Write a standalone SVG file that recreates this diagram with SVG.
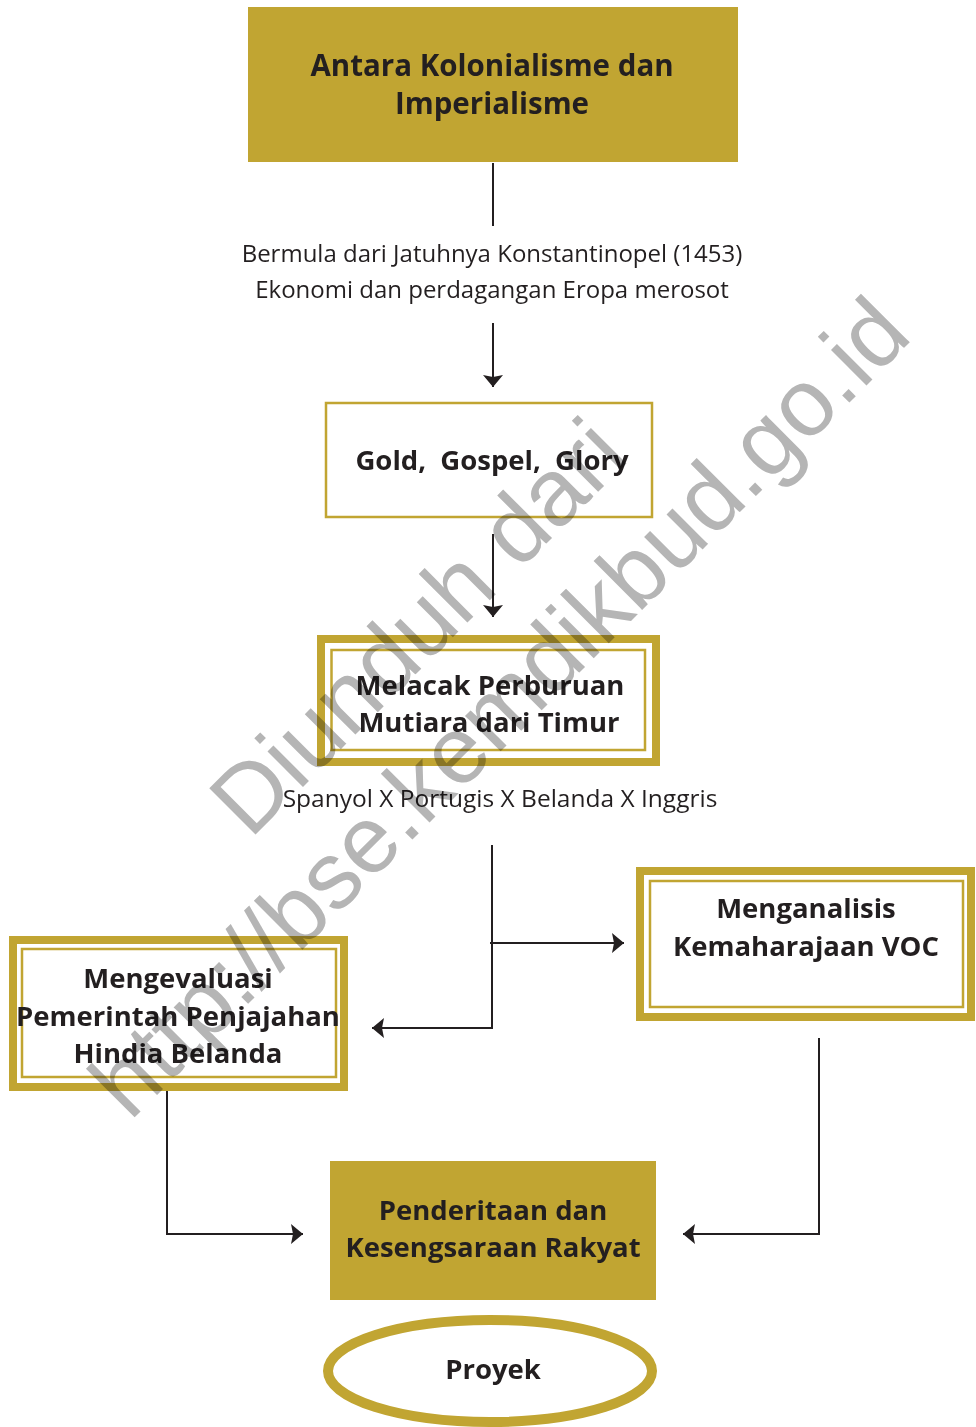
<svg xmlns="http://www.w3.org/2000/svg" width="976" height="1427" viewBox="0 0 976 1427">
<defs>
<style>
.gold-fill{fill:#c1a532;}
.thin{fill:none;stroke:#c1a532;stroke-width:2.5;}
.band{fill:none;stroke:#c1a532;stroke-width:8;}
.t{font-family:"Open Sans","Noto Sans",sans-serif;fill:#231f20;text-anchor:middle;}
.b{font-weight:bold;font-size:27.5px;}
.bt{font-weight:bold;font-size:29.5px;}
.r{font-weight:normal;font-size:24px;}
.conn{fill:none;stroke:#231f20;stroke-width:2;}
.wm{font-family:"Liberation Sans",Arial,sans-serif;font-size:95px;fill:#b5b5b5;}
</style>
<marker id="ah" markerUnits="userSpaceOnUse" markerWidth="13" markerHeight="21" refX="12" refY="10" orient="auto">
<path d="M0,0 L12,10 L0,20 L2,10 Z" fill="#231f20"/>
</marker>
</defs>
<rect width="976" height="1427" fill="#ffffff"/>

<g id="connectors">
<path class="conn" d="M493,163 V226"/>
<path class="conn" d="M493,323 V387" marker-end="url(#ah)"/>
<path class="conn" d="M493,534 V617" marker-end="url(#ah)"/>
<path class="conn" d="M492,845 V1028 H372" marker-end="url(#ah)"/>
<path class="conn" d="M490,943 H624" marker-end="url(#ah)"/>
<path class="conn" d="M167,1091 V1234 H303" marker-end="url(#ah)"/>
<path class="conn" d="M819,1038 V1234 H683" marker-end="url(#ah)"/>
</g>

<g id="node-antara">
<rect class="gold-fill" x="248" y="7" width="490" height="155"/>
<text class="t bt" x="492" y="76">Antara Kolonialisme dan</text>
<text class="t bt" x="492" y="114">Imperialisme</text>
</g>

<g id="label-bermula">
<text class="t r" x="492" y="262">Bermula dari Jatuhnya Konstantinopel (1453)</text>
<text class="t r" x="492" y="298">Ekonomi dan perdagangan Eropa merosot</text>
</g>

<g id="node-gold">
<rect class="thin" x="326" y="403" width="326" height="114" fill="#ffffff"/>
<text class="t b" x="492" y="470" style="white-space:pre">Gold,  Gospel,  Glory</text>
</g>

<g id="node-melacak">
<rect class="band" x="321" y="639" width="335" height="123"/>
<rect class="thin" x="331.5" y="650" width="313.5" height="100"/>
<text class="t b" x="490" y="695">Melacak Perburuan</text>
<text class="t b" x="489" y="732">Mutiara dari Timur</text>
</g>

<g id="label-spanyol">
<text class="t r" x="500" y="807" style="font-size:24.5px">Spanyol X Portugis X Belanda X Inggris</text>
</g>

<g id="node-voc">
<rect class="band" x="640" y="871" width="331" height="146"/>
<rect class="thin" x="650" y="881" width="313" height="126"/>
<text class="t b" x="806" y="918">Menganalisis</text>
<text class="t b" x="806" y="956">Kemaharajaan VOC</text>
</g>

<g id="node-mengevaluasi">
<rect class="band" x="13" y="940" width="331" height="147"/>
<rect class="thin" x="22" y="949" width="314" height="128"/>
<text class="t b" x="178" y="988">Mengevaluasi</text>
<text class="t b" x="178" y="1026">Pemerintah Penjajahan</text>
<text class="t b" x="178" y="1063">Hindia Belanda</text>
</g>

<g id="node-penderitaan">
<rect class="gold-fill" x="330" y="1161" width="326" height="139"/>
<text class="t b" x="493" y="1220">Penderitaan dan</text>
<text class="t b" x="493" y="1257">Kesengsaraan Rakyat</text>
</g>

<g id="node-proyek">
<ellipse cx="490" cy="1371" rx="162" ry="51" fill="#ffffff" stroke="#c1a532" stroke-width="10"/>
<text class="t b" x="493" y="1379">Proyek</text>
</g>

<g id="watermark" style="mix-blend-mode:multiply">
<text class="wm" x="250" y="840" transform="rotate(-45 250 840)">Diunduh dari</text>
<text class="wm" x="130" y="1122" transform="rotate(-45 130 1122)">http://bse.kemdikbud.go.id</text>
</g>
</svg>
